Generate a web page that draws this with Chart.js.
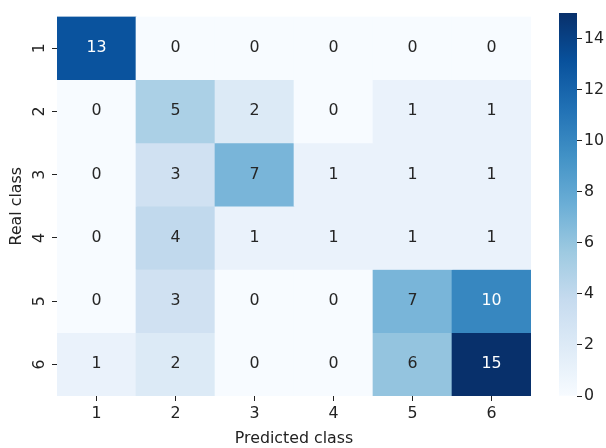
<!DOCTYPE html>
<html>
<head>
<meta charset="utf-8">
<script src="https://cdn.jsdelivr.net/npm/chart.js@4/dist/chart.umd.min.js"></script>
<style>
  body { margin: 0; background: #fff; }
  #wrap { position: relative; width: 606px; height: 448px; }
  #main { position: absolute; left: 0; top: 0; }
  #bar { position: absolute; left: 540px; top: 0; }
</style>
</head>
<body>
<div id="wrap">
  <canvas id="main" width="606" height="448"></canvas>
  <canvas id="bar" width="66" height="448"></canvas>
</div>
<script>
// confusion matrix, rows = real class, columns = predicted class
const predLabels = ['1', '2', '3', '4', '5', '6'];
const realLabels = ['1', '2', '3', '4', '5', '6'];
const row1 = [13, 0, 0, 0, 0, 0];
const row2 = [0, 5, 2, 0, 1, 1];
const row3 = [0, 3, 7, 1, 1, 1];
const row4 = [0, 4, 1, 1, 1, 1];
const row5 = [0, 3, 0, 0, 7, 10];
const row6 = [1, 2, 0, 0, 6, 15];
const rows = [row1, row2, row3, row4, row5, row6];
const vmin = 0;
const vmax = 15;
const barTicks = [0, 2, 4, 6, 8, 10, 12, 14];

// matplotlib "Blues"
const blues = [
  [247, 251, 255], [222, 235, 247], [198, 219, 239], [158, 202, 225],
  [107, 174, 214], [66, 146, 198], [33, 113, 181], [8, 81, 156], [8, 48, 107]
];

function bluesRgb(t) {
  t = Math.max(0, Math.min(1, t));
  const p = t * (blues.length - 1);
  const i = Math.min(Math.floor(p), blues.length - 2);
  const f = p - i;
  return blues[i].map((c, k) => Math.round(c + (blues[i + 1][k] - c) * f));
}
function bluesColor(v) {
  const c = bluesRgb((v - vmin) / (vmax - vmin));
  return 'rgb(' + c.join(',') + ')';
}
function textColorFor(v) {
  // same rule as seaborn: relative luminance
  const lum = bluesRgb((v - vmin) / (vmax - vmin)).map(c => {
    c = c / 255;
    return c <= 0.03928 ? c / 12.92 : Math.pow((c + 0.055) / 1.055, 2.4);
  });
  const l = 0.2126 * lum[0] + 0.7152 * lum[1] + 0.0722 * lum[2];
  return l > 0.408 ? '#262626' : '#ffffff';
}

const font = { family: 'DejaVu Sans', size: 15.8 };
const tickColor = '#222';

const annotate = {
  id: 'annotate',
  afterDatasetsDraw(chart) {
    const c = chart.ctx;
    c.save();
    c.font = font.size + 'px "DejaVu Sans"';
    c.textAlign = 'center';
    c.textBaseline = 'middle';
    rows.forEach((row, r) => {
      const meta = chart.getDatasetMeta(r);
      meta.data.forEach((el, j) => {
        const p = el.getCenterPoint();
        c.fillStyle = textColorFor(row[j]);
        c.fillText(String(row[j]), p.x, p.y);
      });
    });
    c.restore();
  }
};

new Chart(document.getElementById('main'), {
  type: 'bar',
  data: {
    labels: predLabels,
    datasets: rows.map((row, r) => ({
      label: realLabels[r],
      data: row.map(() => [r, r + 1]),
      backgroundColor: row.map(v => bluesColor(v)),
      borderWidth: 0,
      grouped: false,
      barPercentage: 1,
      categoryPercentage: 1
    }))
  },
  options: {
    responsive: false,
    animation: false,
    layout: { padding: { top: 13, right: 75, left: 0, bottom: 0 } },
    plugins: { legend: { display: false }, tooltip: { enabled: false } },
    scales: {
      x: {
        afterFit(scale) { scale.height = 52; },
        grid: { drawOnChartArea: false, offset: false, tickLength: 5, color: tickColor },
        border: { display: false },
        ticks: { color: tickColor, font, padding: 3, maxRotation: 0 },
        title: { display: true, text: 'Predicted class', color: tickColor, font, padding: { top: 0, bottom: 0 } }
      },
      y: {
        type: 'linear',
        min: 0,
        max: 6,
        reverse: true,
        afterFit(scale) { scale.width = 57; },
        afterBuildTicks(scale) {
          scale.ticks = realLabels.map((l, i) => ({ value: i + 0.5 }));
        },
        grid: { drawOnChartArea: false, tickLength: 5, color: tickColor },
        border: { display: false },
        ticks: {
          color: tickColor,
          font,
          minRotation: 90,
          maxRotation: 90,
          crossAlign: 'center',
          padding: 7,
          callback: v => realLabels[Math.floor(v)]
        },
        title: { display: true, text: 'Real class', color: tickColor, font, padding: { top: 7, bottom: 0 } }
      }
    }
  },
  plugins: [annotate]
});

new Chart(document.getElementById('bar'), {
  type: 'bar',
  data: {
    labels: [''],
    datasets: [{
      data: [[vmin, vmax]],
      borderWidth: 0,
      barPercentage: 1,
      categoryPercentage: 1,
      backgroundColor(ctx) {
        const area = ctx.chart.chartArea;
        if (!area) return bluesColor(vmin);
        const g = ctx.chart.ctx.createLinearGradient(0, area.bottom, 0, area.top);
        blues.forEach((c, i) => g.addColorStop(i / (blues.length - 1), 'rgb(' + c.join(',') + ')'));
        return g;
      }
    }]
  },
  options: {
    responsive: false,
    animation: false,
    layout: { padding: { top: 13, bottom: 52, left: 19, right: 0 } },
    plugins: { legend: { display: false }, tooltip: { enabled: false } },
    scales: {
      x: { display: false },
      y: {
        position: 'right',
        min: vmin,
        max: vmax,
        afterFit(scale) { scale.width = 29; },
        afterBuildTicks(scale) {
          scale.ticks = barTicks.map(v => ({ value: v }));
        },
        grid: { drawOnChartArea: false, tickLength: 5, color: tickColor },
        border: { display: false },
        ticks: { color: tickColor, font, padding: 2 }
      }
    }
  }
});
</script>
</body>
</html>
